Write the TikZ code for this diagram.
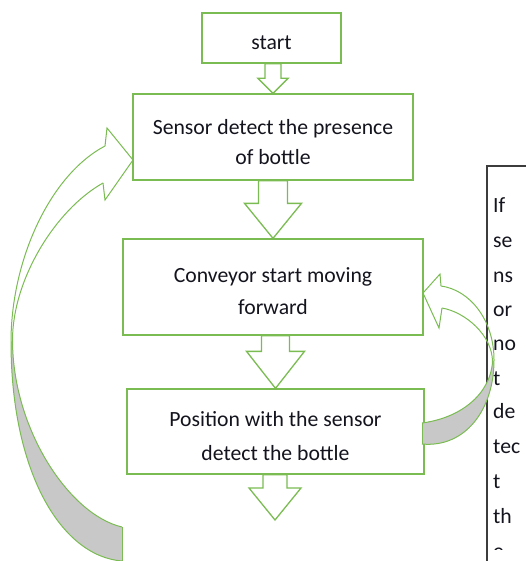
\documentclass[tikz,border=0pt]{standalone}
\usepackage{fontspec}
\setmainfont{Carlito}
\usetikzlibrary{calc}
\definecolor{grn}{RGB}{122,188,82}
\definecolor{txt}{RGB}{20,20,30}
\definecolor{ribgray}{RGB}{200,200,200}
\definecolor{bord}{RGB}{60,60,60}
\newcommand\dnarrow[5]{%
 \draw[blockarrow] let \p1=(#1), \p2=(#2) in
 ({\x2-#3pt},\y1) -- ({\x2-#3pt},{\y2+#5pt}) -- ({\x2-#4pt},{\y2+#5pt}) -- (\x2,\y2)
 -- ({\x2+#4pt},{\y2+#5pt}) -- ({\x2+#3pt},{\y2+#5pt}) -- ({\x2+#3pt},\y1) -- cycle;}
\begin{document}
\begin{tikzpicture}[x=1pt,y=-1pt,line join=miter,
 box/.style={draw=grn,line width=1.3pt,fill=white,inner sep=0pt},
 lbl/.style={text=txt,align=center,inner sep=0pt},
 blockarrow/.style={draw=grn,line width=1.3pt,fill=white},
 ribbon/.style={draw=grn,line width=1pt},
 tbtext/.style={anchor=base west,inner sep=0pt,text=txt,font=\fontsize{21.7}{26}\selectfont},
]
\useasboundingbox (0,0) rectangle (526,561);
% boxes
\node[box,minimum width=139pt,minimum height=50pt] (start) at (271.5,38) {};
\node[box,minimum width=280pt,minimum height=86pt] (sensor) at (273,137) {};
\node[box,minimum width=300pt,minimum height=96pt] (conveyor) at (273,287) {};
\node[box,minimum width=297pt,minimum height=85pt] (position) at (275.5,431.5) {};
% texts
\node[lbl,font=\fontsize{21.7}{30}\selectfont] (starttxt) at ($(start.center)+(0,5)$) {start};
\node[lbl,font=\fontsize{21.7}{30}\selectfont] (sensortxt) at ($(sensor.center)+(0,5)$) {Sensor detect the presence\\of bottle};
\node[lbl,font=\fontsize{21.7}{32}\selectfont] (conveyortxt) at ($(conveyor.center)+(0,4)$) {Conveyor start moving\\forward};
\node[lbl,font=\fontsize{21.7}{34}\selectfont] (positiontxt) at ($(position.center)+(0,5)$) {Position with the sensor\\detect the bottle};
\coordinate (endtip) at (275,520);
% block arrows
\dnarrow{start.south}{sensor.north}{8}{15}{15}
\dnarrow{sensor.south}{conveyor.north}{14.5}{28.5}{35}
\dnarrow{conveyor.south}{position.north}{14}{29}{37}
\dnarrow{position.south}{endtip}{12}{26}{32}
% text box on the right
\draw[bord,line width=1.1pt] (530,166) -- (487,166) -- (487,565);
\begin{scope}
\clip (480,160) rectangle (526,549);
\foreach \t/\yy [count=\i] in {If/212,se/247,ns/282,or/316,no/350,t/385,de/418,tec/453,t/488,th/523,e/558}
  \node[tbtext,name=tb\i] at (493,\yy) {\t};
\end{scope}
% left curved arrow (back to sensor)
\fill[ribgray] (11,342) .. controls (11,470) and (60,556) .. (122,561) -- (122,527)
  .. controls (70,515) and (12.5,430) .. (12.5,340) -- cycle;
\draw[ribbon] (105,146) .. controls (50,175) and (11,260) .. (11,342)
  .. controls (11,470) and (60,556) .. (122,561);
\draw[ribbon] (103,183) .. controls (55,210) and (12.5,280) .. (12.5,340)
  .. controls (12.5,430) and (70,515) .. (122,527);
\draw[ribbon] (122,527) -- (122,561);
\draw[ribbon] (105,146) -- (107,128) -- (133,160) -- (105,200) -- (103,183);
% right curved arrow (back to conveyor)
\fill[ribgray] (494,360) .. controls (494,410) and (465,448) .. (422,444) -- (422,423)
  .. controls (460,418) and (490,395) .. (492.5,362) -- cycle;
\draw[ribbon] (441,286) .. controls (470,290) and (494,320) .. (494,360)
  .. controls (494,410) and (465,448) .. (422,444);
\draw[ribbon] (442,308) .. controls (465,312) and (492.5,335) .. (492.5,362)
  .. controls (490,395) and (460,418) .. (422,423);
\draw[ribbon] (422,423) -- (422,444);
\draw[ribbon] (441,286) -- (440,274) -- (423,293) -- (439,328) -- (442,308);
\end{tikzpicture}
\end{document}
